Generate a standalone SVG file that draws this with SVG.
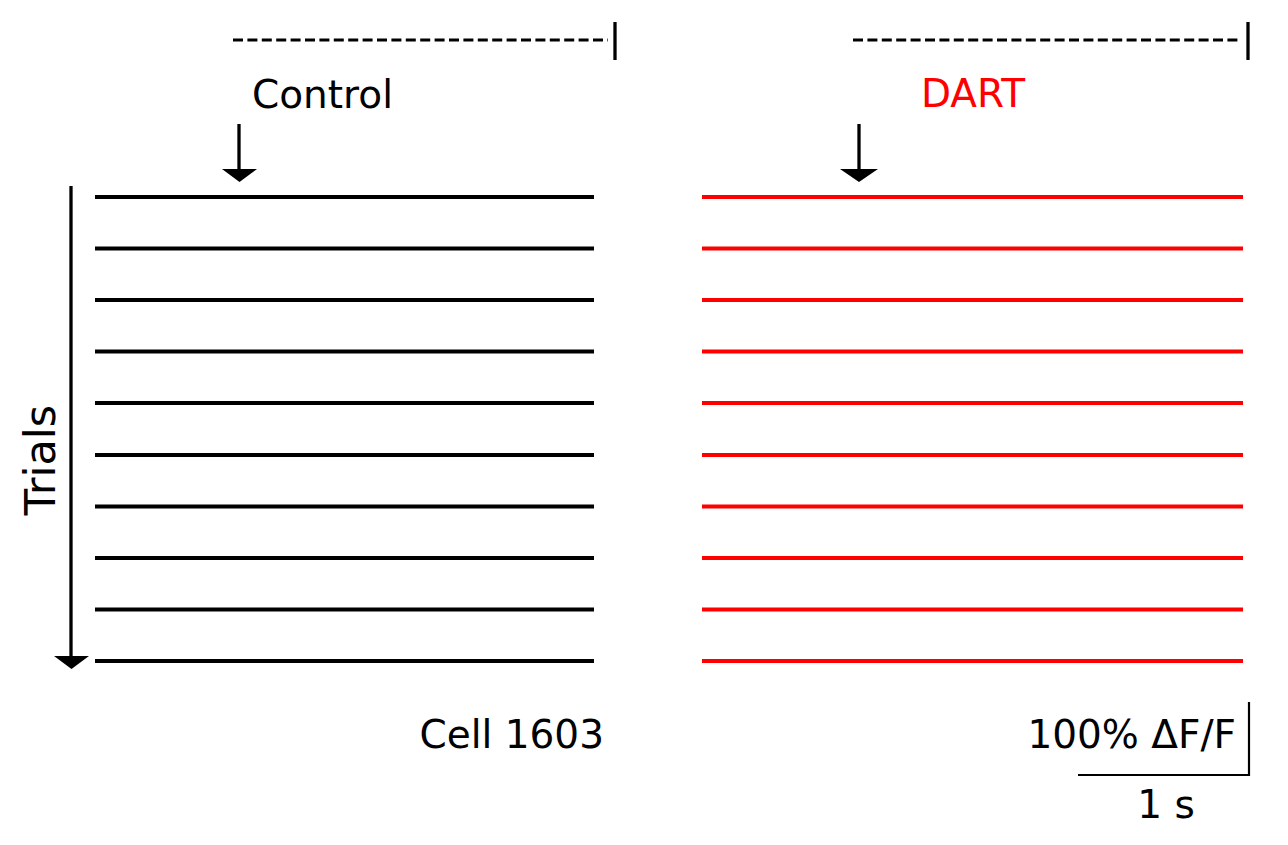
<svg xmlns="http://www.w3.org/2000/svg" width="1288" height="845" viewBox="0 0 1288 845">
<style>
text{font-family:"DejaVu Sans","Liberation Sans",sans-serif;font-size:39px;fill:#000}
.k{stroke:#000;stroke-width:4;fill:none}
.r{stroke:#f00;stroke-width:4;fill:none}
.d{stroke:#000;stroke-width:3.2;stroke-dasharray:10 4.4;fill:none}
.b{stroke:#000;stroke-width:3.3;fill:none}
.s{stroke:#000;stroke-width:2.2;fill:none}
.h{fill:#000;stroke:none}
</style>
<rect width="1288" height="845" fill="#fff"/>
<g id="control-panel">
<path class="d" d="M233 40H608"/>
<path class="b" d="M615 22V60"/>
<text x="252" y="108">Control</text>
<g id="control-arrow"><path class="b" d="M239 124V170"/><path class="h" d="M222 169H257L239.5 182Z"/></g>
<g id="control-trials">
<path class="k" d="M95 197H594M95 248.5H594M95 300H594M95 351.5H594M95 403H594M95 455H594M95 506.5H594M95 558H594M95 609.5H594M95 661H594"/>
</g>
<text x="604" y="748" text-anchor="end">Cell 1603</text>
</g>
<g id="dart-panel">
<path class="d" d="M853 40H1240"/>
<path class="b" d="M1248 22V60"/>
<text x="921" y="107" style="fill:#f00">DART</text>
<g id="dart-arrow"><path class="b" d="M859 124V170"/><path class="h" d="M840 169H878L859 182Z"/></g>
<g id="dart-trials">
<path class="r" d="M702 197H1243M702 248.5H1243M702 300H1243M702 351.5H1243M702 403H1243M702 455H1243M702 506.5H1243M702 558H1243M702 609.5H1243M702 661H1243"/>
</g>
</g>
<g id="trials-axis">
<path class="b" d="M71 186V657"/>
<path class="h" d="M54 656H89L71.5 669Z"/>
<text transform="translate(55 460) rotate(-90)" text-anchor="middle" style="font-size:43px">Trials</text>
</g>
<g id="scale-bar">
<path class="s" d="M1078 775H1250M1249 702V776"/>
<text x="1236" y="748" text-anchor="end">100% ΔF/F</text>
<text x="1166" y="818" text-anchor="middle">1 s</text>
</g>
</svg>
